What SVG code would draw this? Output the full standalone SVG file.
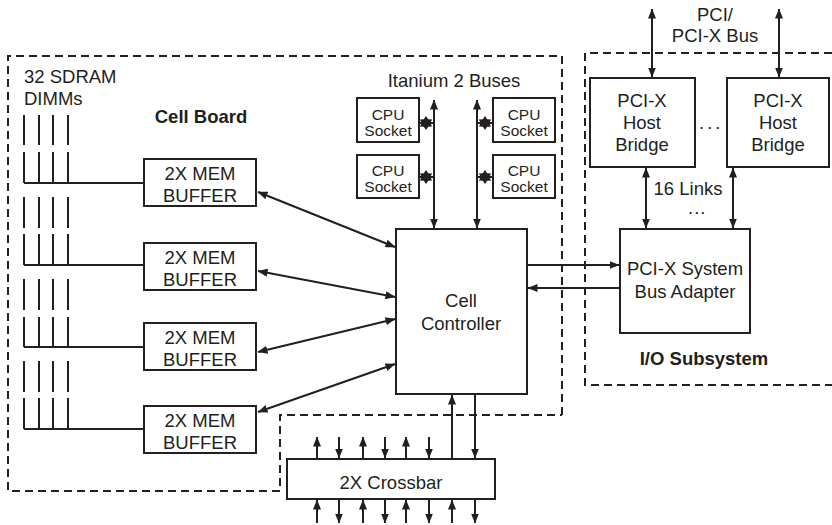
<svg xmlns="http://www.w3.org/2000/svg" width="832" height="525" viewBox="0 0 832 525">
<defs>
<marker id="ah" viewBox="0 0 10 8" refX="9.5" refY="4" markerWidth="10" markerHeight="8" markerUnits="userSpaceOnUse" orient="auto-start-reverse">
<path d="M0,0 L10,4 L0,8 Z" fill="#231f20"/>
</marker>
<polygon id="star" points="0,-7 2.2,-3.7 6.1,-3.5 4.3,0 6.1,3.5 2.2,3.7 0,7 -2.2,3.7 -6.1,3.5 -4.3,0 -6.1,-3.5 -2.2,-3.7" fill="#231f20"/>
</defs>
<style>
.box{fill:#fff;stroke:#231f20;stroke-width:2}
.dash{fill:none;stroke:#231f20;stroke-width:2;stroke-dasharray:8 5}
.ln{fill:none;stroke:#231f20;stroke-width:2}
.ar{fill:none;stroke:#231f20;stroke-width:2;marker-end:url(#ah)}
.ar2{fill:none;stroke:#231f20;stroke-width:2;marker-start:url(#ah);marker-end:url(#ah)}
.t{font-family:"Liberation Sans",Arial,sans-serif;font-size:18.5px;fill:#231f20;text-anchor:middle}
.tl{text-anchor:start}
.b{font-weight:bold}
.s{font-size:15.5px}
</style>
<rect width="832" height="525" fill="#fff"/>

<g id="cell-board-boundary">
<path class="dash" d="M562,415 L562,56 L8,56 L8,491 L280,491 L280,415 L562,415"/>
<text class="t b" x="201" y="123">Cell Board</text>
</g>
<g id="io-boundary">
<path class="dash" d="M832,53 L585,53 L585,385 L832,385"/>
<text class="t b" x="704" y="365">I/O Subsystem</text>
</g>

<g id="dimms">
<text class="t tl" x="24" y="83">32 SDRAM</text>
<text class="t tl" x="24" y="105">DIMMs</text>
<path class="ln" d="M24,115V145M39,115V145M53,115V145M68,115V145M24,152V183M39,152V183M53,152V183M68,152V183M24,183H144"/>
<path class="ln" d="M24,197V228M39,197V228M53,197V228M68,197V228M24,234V265M39,234V265M53,234V265M68,234V265M24,265H144"/>
<path class="ln" d="M24,279V310M39,279V310M53,279V310M68,279V310M24,317V347M39,317V347M53,317V347M68,317V347M24,347H144"/>
<path class="ln" d="M24,361V392M39,361V392M53,361V392M68,361V392M24,398V429M39,398V429M53,398V429M68,398V429M24,429H144"/>
</g>

<g id="mem-buffer-1">
<rect class="box" x="144" y="159" width="112" height="47"/>
<text class="t" x="200" y="180">2X MEM</text>
<text class="t" x="200" y="202">BUFFER</text>
</g>
<g id="mem-buffer-2">
<rect class="box" x="144" y="243" width="112" height="47"/>
<text class="t" x="200" y="264">2X MEM</text>
<text class="t" x="200" y="286">BUFFER</text>
</g>
<g id="mem-buffer-3">
<rect class="box" x="144" y="323" width="112" height="47"/>
<text class="t" x="200" y="344">2X MEM</text>
<text class="t" x="200" y="366">BUFFER</text>
</g>
<g id="mem-buffer-4">
<rect class="box" x="144" y="406" width="112" height="47"/>
<text class="t" x="200" y="427">2X MEM</text>
<text class="t" x="200" y="449">BUFFER</text>
</g>

<g id="itanium-label">
<text class="t" x="454" y="87">Itanium 2 Buses</text>
</g>
<g id="cpu-socket-1">
<rect class="box" x="357" y="98" width="62" height="44"/>
<text class="t s" x="388" y="120">CPU</text>
<text class="t s" x="388" y="136">Socket</text>
</g>
<g id="cpu-socket-2">
<rect class="box" x="357" y="155" width="62" height="43"/>
<text class="t s" x="388" y="176">CPU</text>
<text class="t s" x="388" y="192">Socket</text>
</g>
<g id="cpu-socket-3">
<rect class="box" x="493" y="98" width="62" height="44"/>
<text class="t s" x="524" y="120">CPU</text>
<text class="t s" x="524" y="136">Socket</text>
</g>
<g id="cpu-socket-4">
<rect class="box" x="493" y="155" width="62" height="43"/>
<text class="t s" x="524" y="176">CPU</text>
<text class="t s" x="524" y="192">Socket</text>
</g>

<g id="cell-controller">
<rect class="box" x="396" y="229" width="131" height="165"/>
<text class="t" x="461" y="307">Cell</text>
<text class="t" x="461" y="330">Controller</text>
</g>

<g id="crossbar">
<rect class="box" x="287" y="459" width="208" height="40"/>
<text class="t" x="391" y="489">2X Crossbar</text>
</g>

<g id="pci-host-bridge-1">
<rect class="box" x="590" y="78" width="105" height="89"/>
<text class="t" x="642" y="107">PCI-X</text>
<text class="t" x="642" y="129">Host</text>
<text class="t" x="642" y="151">Bridge</text>
</g>
<g id="pci-host-bridge-2">
<rect class="box" x="727" y="78" width="102" height="89"/>
<text class="t" x="778" y="107">PCI-X</text>
<text class="t" x="778" y="129">Host</text>
<text class="t" x="778" y="151">Bridge</text>
</g>
<g id="pci-bus-adapter">
<rect class="box" x="620" y="229" width="130" height="104"/>
<text class="t" x="685" y="275">PCI-X System</text>
<text class="t" x="685" y="298">Bus Adapter</text>
</g>
<g id="labels">
<text class="t" x="715" y="21">PCI/</text>
<text class="t" x="715" y="42">PCI-X Bus</text>
<text class="t" x="688" y="195">16 Links</text>
<text class="t tl" x="699" y="129" style="letter-spacing:3px">...</text>
<text class="t tl" x="688" y="214" style="letter-spacing:1px">...</text>
</g>

<g id="connectors">
<line class="ar2" x1="258" y1="192" x2="395" y2="247"/>
<line class="ar2" x1="258" y1="271" x2="395" y2="297"/>
<line class="ar2" x1="258" y1="352" x2="395" y2="319"/>
<line class="ar2" x1="258" y1="412" x2="395" y2="364"/>
<line class="ar2" x1="434" y1="100" x2="434" y2="228"/>
<line class="ar2" x1="477" y1="100" x2="477" y2="228"/>
<path class="ln" d="M419,123H434M419,177H434M477,123H493M477,177H493"/>
<use href="#star" x="426" y="123"/>
<use href="#star" x="426" y="177"/>
<use href="#star" x="485" y="123"/>
<use href="#star" x="485" y="177"/>
<line class="ar" x1="527" y1="265" x2="619" y2="265"/>
<line class="ar" x1="620" y1="288" x2="528" y2="288"/>
<line class="ar2" x1="652" y1="9" x2="652" y2="77"/>
<line class="ar2" x1="779" y1="9" x2="779" y2="77"/>
<line class="ar2" x1="646" y1="168" x2="646" y2="228"/>
<line class="ar2" x1="733" y1="168" x2="733" y2="228"/>
<line class="ar" x1="452" y1="458" x2="452" y2="395"/>
<line class="ar" x1="475" y1="395" x2="475" y2="458"/>
<line class="ar" x1="317" y1="458" x2="317" y2="437"/>
<line class="ar" x1="339" y1="437" x2="339" y2="458"/>
<line class="ar" x1="363" y1="458" x2="363" y2="437"/>
<line class="ar" x1="385" y1="437" x2="385" y2="458"/>
<line class="ar" x1="406" y1="458" x2="406" y2="437"/>
<line class="ar" x1="429" y1="437" x2="429" y2="458"/>
<line class="ar" x1="317" y1="523" x2="317" y2="500"/>
<line class="ar" x1="339" y1="500" x2="339" y2="523"/>
<line class="ar" x1="363" y1="523" x2="363" y2="500"/>
<line class="ar" x1="385" y1="500" x2="385" y2="523"/>
<line class="ar" x1="406" y1="523" x2="406" y2="500"/>
<line class="ar" x1="429" y1="500" x2="429" y2="523"/>
<line class="ar" x1="452" y1="523" x2="452" y2="500"/>
<line class="ar" x1="475" y1="500" x2="475" y2="523"/>
</g>
</svg>
